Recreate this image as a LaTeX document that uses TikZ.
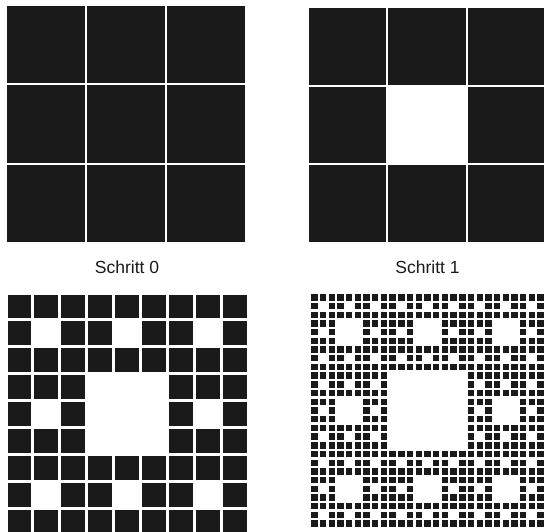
\documentclass[tikz,border=0pt]{standalone}
\usepackage{fontspec}
\setmainfont{Liberation Sans}
\definecolor{ink}{HTML}{1A1A1A}
\tikzset{
  cell/.style={fill=ink},
  lbl/.style={anchor=base, font=\fontsize{17.5}{20}\selectfont, text=ink}
}
% #1 x0, #2 y0, #3 width, #4 height, #5 cells per side, #6 gap, #7 levels
\newcommand{\carpetpanel}[7]{%
  \pgfmathsetmacro\cw{#3/#5}%
  \pgfmathsetmacro\ch{#4/#5}%
  \pgfmathtruncatemacro\nm{#5-1}%
  \foreach \i in {0,...,\nm}{%
    \foreach \j in {0,...,\nm}{%
      \pgfmathtruncatemacro\hole{(#7>0)*(mod(\i,3)==1)*(mod(\j,3)==1)
        + (#7>1)*(mod(int(\i/3),3)==1)*(mod(int(\j/3),3)==1)
        + (#7>2)*(mod(int(\i/9),3)==1)*(mod(int(\j/9),3)==1)}%
      \ifnum\hole=0
        \fill[cell] ({#1+\i*\cw+#6/2},{#2+\j*\ch+#6/2}) rectangle ++({\cw-#6},{\ch-#6});
      \fi
    }%
  }%
}
\begin{document}
\begin{tikzpicture}[x=1pt,y=-1pt]
  \fill[white] (0,0) rectangle (544,532);
  \useasboundingbox (0,0) rectangle (544,532);
  \carpetpanel{6}{5}{240}{238}{3}{2}{0}
  \carpetpanel{308}{7}{238}{236}{3}{2}{1}
  \carpetpanel{6}{293}{242}{242}{9}{3}{2}
  \carpetpanel{310}{293}{235}{235}{27}{2.3}{3}
  \node[lbl] (s0) at (127,273) {Schritt 0};
  \node[lbl] (s1) at (427.5,273) {Schritt 1};
\end{tikzpicture}
\end{document}
